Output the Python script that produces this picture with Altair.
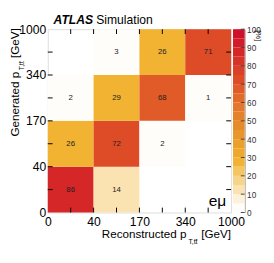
import json
import altair as alt
import pandas as pd

# ---- data ----
edges = ["0", "40", "170", "340", "1000"]
reco_bin = [0, 1, 0, 1, 2, 0, 1, 2, 3, 1, 2, 3]
gen_bin = [0, 0, 1, 1, 1, 2, 2, 2, 2, 3, 3, 3]
values = [86, 14, 26, 72, 2, 2, 29, 68, 1, 3, 26, 71]
tick_pos = [0.5, 1, 1.5, 2, 2.5, 3, 3.5]
cb_levels = list(range(0, 100, 5))
cb_ticks = list(range(0, 101, 10))
palette = [
    "#fffdf9", "#fdf1d9", "#fbe3b1", "#f8d48a", "#f5c560",
    "#f1b331", "#eea92d", "#eba02b", "#e9962a", "#e78b2a",
    "#e5812a", "#e4772a", "#e26b29", "#e05b27", "#dd4b27",
    "#da4028", "#d83328", "#d52628", "#d31c29", "#cf102a",
]

W = 189
H = 189
FONT = "Liberation Sans"

cells = pd.DataFrame({"x0": reco_bin, "y0": gen_bin, "value": values})
ticks_df = pd.DataFrame({"pos": tick_pos})
cb_df = pd.DataFrame({"lo": cb_levels})
cbt_df = pd.DataFrame({"t": cb_ticks})

color_scale = alt.Scale(type="quantize", domain=[0, 100], range=palette)
xs = alt.Scale(domain=[0, 4], nice=False, zero=False)
ys = alt.Scale(domain=[0, 4], nice=False, zero=False)
label_expr = json.dumps(edges) + "[datum.value]"
xa = alt.Axis(values=[0, 1, 2, 3, 4], labelExpr=label_expr, ticks=False, domain=False,
              grid=False, title=None, labelFontSize=12.5, labelPadding=3,
              labelColor="black", labelFlush=False, labelFont=FONT)
ya = alt.Axis(values=[0, 1, 2, 3, 4], labelExpr=label_expr, ticks=False, domain=False,
              grid=False, title=None, labelFontSize=12.5, labelPadding=2,
              labelColor="black", labelFlush=False, labelFont=FONT)

rects = alt.Chart(cells).mark_rect().transform_calculate(
    x1="datum.x0 + 1", y1="datum.y0 + 1"
).encode(
    x=alt.X("x0:Q", scale=xs, axis=xa),
    x2="x1:Q",
    y=alt.Y("y0:Q", scale=ys, axis=ya),
    y2="y1:Q",
    color=alt.Color("value:Q", scale=color_scale, legend=None),
)

labels = alt.Chart(cells).mark_text(fontSize=8, color="#222", font=FONT).transform_calculate(
    xc="datum.x0 + 0.5", yc="datum.y0 + 0.5"
).encode(
    x=alt.X("xc:Q", scale=xs, axis=xa),
    y=alt.Y("yc:Q", scale=ys, axis=ya),
    text=alt.Text("value:Q"),
)

tl = 5
tick_base = alt.Chart(ticks_df).mark_rule(color="black", strokeWidth=1)
t_bottom = tick_base.encode(x=alt.X("pos:Q", scale=xs, axis=xa), y=alt.value(H), y2=alt.value(H - tl))
t_top = tick_base.encode(x=alt.X("pos:Q", scale=xs, axis=xa), y=alt.value(0), y2=alt.value(tl))
t_left = tick_base.encode(y=alt.Y("pos:Q", scale=ys, axis=ya), x=alt.value(0), x2=alt.value(tl))
t_right = tick_base.encode(y=alt.Y("pos:Q", scale=ys, axis=ya), x=alt.value(W), x2=alt.value(W - tl))

one = pd.DataFrame({"a": [0]})


def txt(s, x, y, size, **kw):
    return alt.Chart(one).mark_text(text=s, fontSize=size, font=FONT, color="black", **kw).encode(
        x=alt.value(x), y=alt.value(y)
    )


annot = [
    txt("ATLAS", 6, -5.5, 12.5, align="left", baseline="alphabetic", fontWeight="bold", fontStyle="italic"),
    txt("Simulation", 50, -5.5, 12.5, align="left", baseline="alphabetic"),
    txt("eμ", 184, 182, 16, align="right", baseline="alphabetic"),
    # x title
    txt("Reconstructed p", 143, 215, 12, align="right", baseline="alphabetic"),
    txt("T,tt\u0304", 145, 222, 7, align="left", baseline="alphabetic"),
    txt("[GeV]", 189, 215, 12, align="right", baseline="alphabetic"),
    # y title (rotated)
    txt("[GeV]", -30, -1, 12, align="right", baseline="alphabetic", angle=270),
    txt("T,tt\u0304", -24, 33, 7, align="right", baseline="alphabetic", angle=270),
    txt("Generated p", -30, 44, 12, align="right", baseline="alphabetic", angle=270),
]

heat = alt.layer(rects, labels, t_bottom, t_top, t_left, t_right, *annot)

cys = alt.Scale(domain=[0, 100], nice=False, zero=True)
cya = alt.Axis(orient="right", offset=14, values=cb_ticks, ticks=False, domainColor="#999",
               domainWidth=1, grid=False, title=None, labelFontSize=8.5, labelPadding=2,
               labelColor="#333", labelFont=FONT)

cb_rects = alt.Chart(cb_df).mark_rect().transform_calculate(
    hi="datum.lo + 5", value="datum.lo + 2.5"
).encode(
    y=alt.Y("lo:Q", scale=cys, axis=cya),
    y2="hi:Q",
    x=alt.value(W + 2),
    x2=alt.value(W + 14),
    color=alt.Color("value:Q", scale=color_scale, legend=None),
)
cb_ticks_l = alt.Chart(cbt_df).mark_rule(color="#444", strokeWidth=1).encode(
    y=alt.Y("t:Q", scale=cys, axis=cya),
    x=alt.value(W + 10),
    x2=alt.value(W + 14),
)
pct = txt("[%]", W + 28, 1, 8, align="left", baseline="middle", angle=90)

cbar = alt.layer(cb_rects, cb_ticks_l, pct)

chart = alt.layer(heat, cbar).resolve_scale(y="independent").properties(
    width=W,
    height=H,
    autosize=alt.AutoSizeParams(type="none"),
    padding={"left": 41, "top": 18, "right": 36, "bottom": 40},
).configure_view(stroke="black", strokeWidth=1.2).configure(font=FONT)

chart.save("out.html", embed_options={"renderer": "svg", "actions": False})
